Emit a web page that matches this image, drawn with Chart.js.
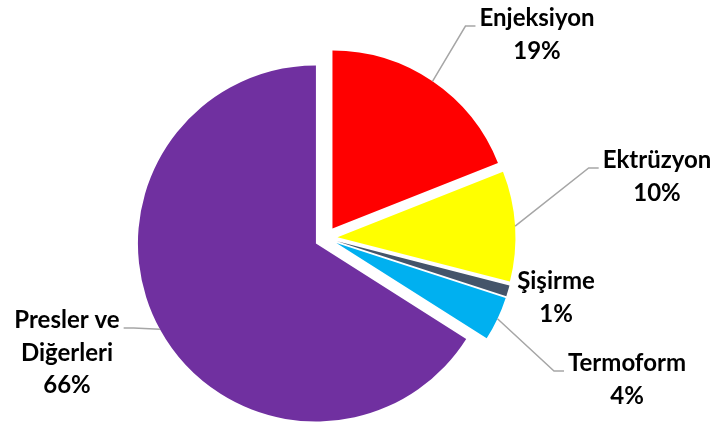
<!DOCTYPE html>
<html>
<head>
<meta charset="utf-8">
<script src="https://cdn.jsdelivr.net/npm/chart.js@4.4.1/dist/chart.umd.min.js"></script>
<style>
    html, body { margin: 0; padding: 0; background: #ffffff; }
    #wrap { width: 717px; height: 425px; }
</style>
</head>
<body>
<div id="wrap"><canvas id="pieChart" width="717" height="425"></canvas></div>
<script>
// Data
const categories = ['Enjeksiyon', 'Ektrüzyon', 'Şişirme', 'Termoform', 'Presler ve Diğerleri'];
const shares = [19, 10, 1, 4, 66];
const sliceColors = ['#ff0000', '#ffff00', '#44546a', '#00b0f0', '#7030a0'];

// Layout (label block centre x, first baseline y) and whether a leader line is drawn
const labelPos = [[537, 26], [657, 168], [556, 289], [627, 371], [67, 328]];
const showLeader = [true, true, false, true, true];
const EXPLODE = 11.5;   // how far each slice is pulled out
const LINE_H = 32.5;
const LABEL_FONT = 'bold 24px Lato';

// Pull every slice out along its own mid angle (Excel style exploded pie)
const explodePlugin = {
    id: 'explode',
    afterDatasetUpdate(chart, args) {
        args.meta.data.forEach(arc => {
            const mid = (arc.startAngle + arc.endAngle) / 2;
            arc.x += Math.cos(mid) * EXPLODE;
            arc.y += Math.sin(mid) * EXPLODE;
        });
    }
};

function wrapText(ctx, text, maxW) {
    const words = text.split(' ');
    const lines = [];
    let cur = '';
    words.forEach(w => {
        const test = cur ? cur + ' ' + w : w;
        if (cur && ctx.measureText(test).width > maxW) {
            lines.push(cur);
            cur = w;
        } else {
            cur = test;
        }
    });
    if (cur) lines.push(cur);
    return lines;
}

// Category + percent labels with grey leader lines
const labelPlugin = {
    id: 'sliceLabels',
    afterDatasetsDraw(chart) {
        const ctx = chart.ctx;
        const meta = chart.getDatasetMeta(0);
        const total = shares.reduce((a, b) => a + b, 0);
        ctx.save();
        ctx.font = LABEL_FONT;
        ctx.fillStyle = '#000000';
        ctx.textAlign = 'center';
        ctx.textBaseline = 'alphabetic';
        meta.data.forEach((arc, i) => {
            const lines = wrapText(ctx, categories[i], 135);
            lines.push(Math.round(shares[i] / total * 100) + '%');
            const [cx, base] = labelPos[i];

            if (showLeader[i]) {
                const mid = (arc.startAngle + arc.endAngle) / 2;
                const ax = arc.x + Math.cos(mid) * arc.outerRadius;
                const ay = arc.y + Math.sin(mid) * arc.outerRadius;
                const w = ctx.measureText(lines[0]).width;
                const onRight = cx > arc.x;
                const edge = onRight ? cx - w / 2 - 4 : cx + w / 2 + 4;
                const elbow = onRight ? edge - 10 : edge + 10;
                ctx.strokeStyle = '#a6a6a6';
                ctx.lineWidth = 1.5;
                ctx.beginPath();
                ctx.moveTo(ax, ay);
                ctx.lineTo(elbow, base);
                ctx.lineTo(edge, base);
                ctx.stroke();
            }

            lines.forEach((t, k) => ctx.fillText(t, cx, base + k * LINE_H));
        });
        ctx.restore();
    }
};

new Chart(document.getElementById('pieChart'), {
    type: 'pie',
    data: {
        labels: categories,
        datasets: [{
            data: shares,
            backgroundColor: sliceColors,
            borderWidth: 0,
            radius: 178
        }]
    },
    options: {
        responsive: false,
        animation: false,
        layout: { padding: { top: 51, bottom: 0, left: 0, right: 65 } },
        plugins: {
            legend: { display: false },
            tooltip: { enabled: false }
        }
    },
    plugins: [explodePlugin, labelPlugin]
});
</script>
</body>
</html>
